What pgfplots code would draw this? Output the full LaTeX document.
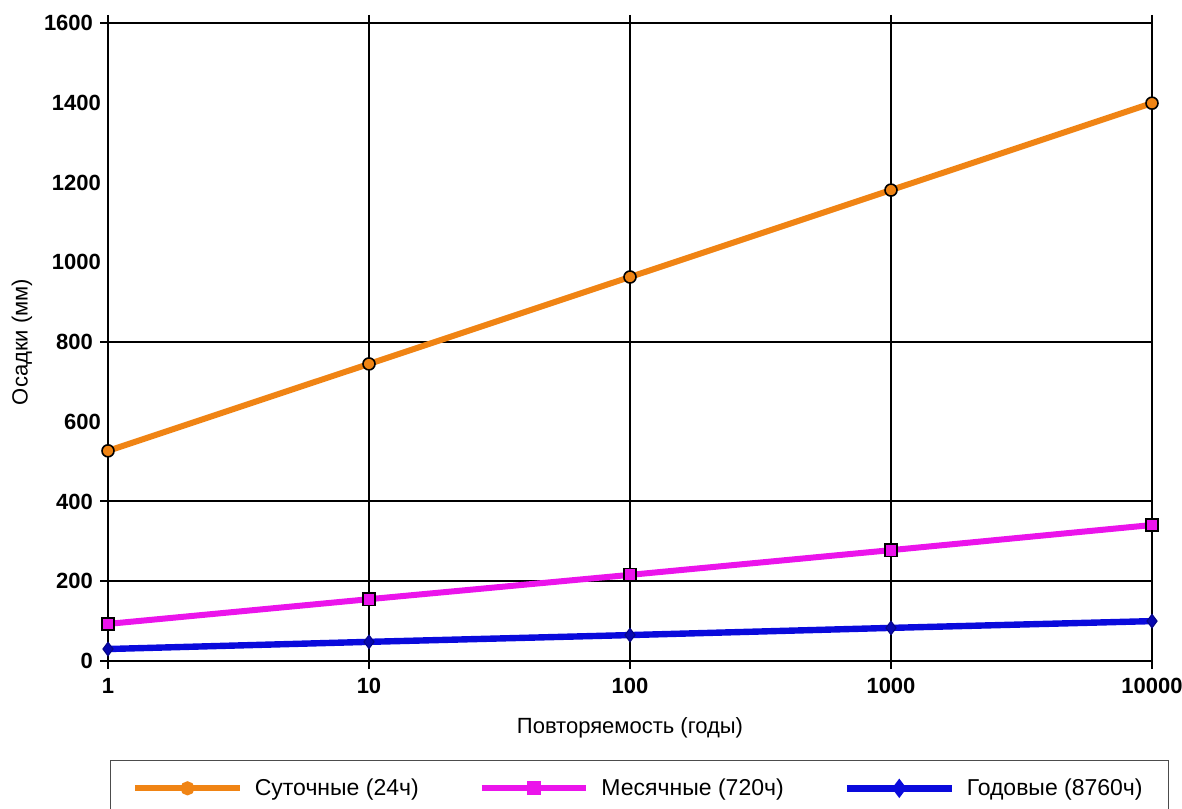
\documentclass[border=0pt]{standalone}
\usepackage{pgfplots}
\pgfplotsset{compat=1.18}
\usepackage{fontspec}
\setmainfont{Liberation Sans}
\definecolor{cOrange}{RGB}{240,132,20}
\definecolor{cMag}{RGB}{235,20,235}
\definecolor{cBlue}{RGB}{10,10,220}
\begin{document}
\begin{tikzpicture}
\begin{axis}[
  scale only axis,
  width=522pt, height=319pt,
  xmode=log, xmin=1, xmax=10000,
  ymin=0, ymax=1600,
  xtick={1,10,100,1000,10000},
  xticklabels={1,10,100,1000,10000},
  xminorticks=false,
  ytick={0,200,400,800,1600},
  extra y ticks={600,1000,1200,1400},
  extra y tick style={major tick length=0pt, grid=none},
  /pgf/number format/1000 sep={},
  tick align=outside,
  xtick pos=both,
  xticklabel pos=lower,
  ytick pos=left,
  major tick length=4pt,
  grid=major,
  major grid style={black, line width=1pt},
  axis line style={black, line width=1.1pt},
  every tick/.style={black, line width=1pt},
  /pgf/number format/assume math mode=true,
  ticklabel style={font=\fontsize{11}{13}\selectfont\bfseries},
  xticklabel style={yshift=-1pt},
  xlabel={Повторяемость (годы)},
  ylabel={Осадки (мм)},
  label style={font=\fontsize{11}{13}\selectfont},
  xlabel style={yshift=-5pt},
  ylabel style={yshift=-5pt},
  legend columns=3,
  legend style={at={(0.509,-0.155)}, anchor=north, draw=black!70, line width=0.6pt,
    font=\fontsize{11.5}{14}\selectfont, inner xsep=11pt, inner ysep=7pt,
    /tikz/every even column/.append style={column sep=28pt},
    /tikz/every odd column/.append style={column sep=4pt}},
  legend cell align=left,
  legend image code/.code={\draw[#1, mark repeat=2, mark phase=2, mark options={draw=none, scale=0.65}] plot coordinates {(0cm,0cm) (0.92cm,0cm) (1.84cm,0cm)};},
]
\addplot[cOrange, line width=3pt, mark=*, mark size=3pt,
  mark options={fill=cOrange, draw=black, line width=0.8pt}]
  coordinates {(1,527) (10,745) (100,963) (1000,1181) (10000,1399)};
\addlegendentry{Суточные (24ч)}
\addplot[cMag, line width=3pt, mark=square*, mark size=3.1pt,
  mark options={fill=cMag, draw=black, line width=0.8pt}]
  coordinates {(1,93) (10,155) (100,216) (1000,278) (10000,341)};
\addlegendentry{Месячные (720ч)}
\addplot[cBlue, line width=3.2pt, mark=diamond*, mark size=3.4pt,
  mark options={fill=cBlue!80!black, draw=cBlue!60!black, line width=0.5pt}]
  coordinates {(1,30) (10,48) (100,65) (1000,83) (10000,100)};
\addlegendentry{Годовые (8760ч)}
\end{axis}
\pgfresetboundingbox
\path[use as bounding box] ([shift={(-54pt,-74pt)}]current axis.south west) rectangle ([shift={(15pt,11.5pt)}]current axis.north east);
\end{tikzpicture}
\end{document}
